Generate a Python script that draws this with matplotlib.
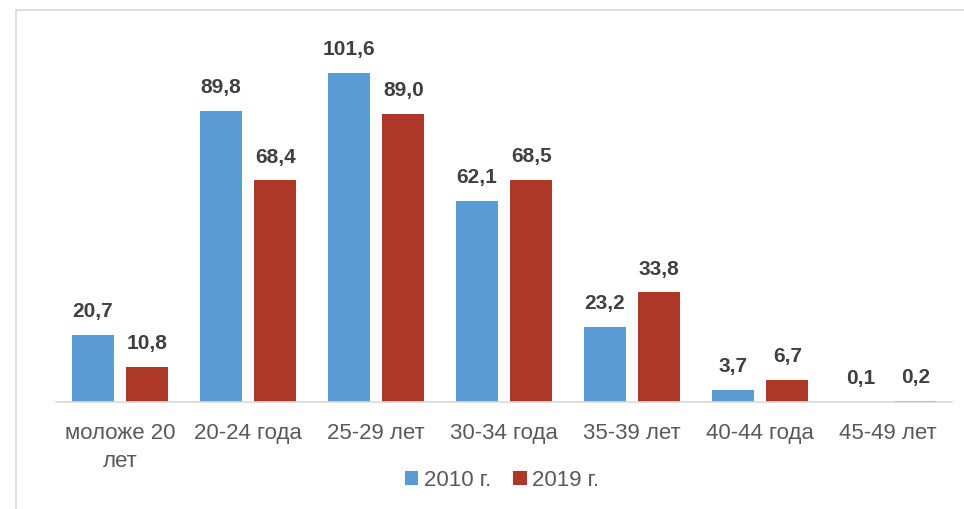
import numpy as np
import matplotlib.pyplot as plt
from matplotlib.patches import Rectangle

plt.rcParams['font.family'] = ['Liberation Sans', 'DejaVu Sans']

categories = ["моложе 20\nлет", "20-24 года", "25-29 лет", "30-34 года",
              "35-39 лет", "40-44 года", "45-49 лет"]
vals_2010 = [20.7, 89.8, 101.6, 62.1, 23.2, 3.7, 0.1]
vals_2019 = [10.8, 68.4, 89.0, 68.5, 33.8, 6.7, 0.2]
series_names = ["2010 г.", "2019 г."]

blue = "#5B9BD5"
red = "#AE3828"

fig = plt.figure(figsize=(9.64, 5.09), dpi=100)
ax = fig.add_axes([56/964, 107/509, 896/964, 392/509])

x = np.arange(len(categories))
w = 0.33
b1 = ax.bar(x - 0.213, vals_2010, w, color=blue, label=series_names[0])
b2 = ax.bar(x + 0.213, vals_2019, w, color=red, label=series_names[1])

for bars in (b1, b2):
    labels = [("%.1f" % b.get_height()).replace(".", ",") for b in bars]
    ax.bar_label(bars, labels=labels, padding=10, fontsize=15,
                 fontweight="bold", color="#404040")

ax.set_xlim(-0.5, len(categories) - 0.5)
ax.set_ylim(0, 121)
ax.set_yticks([])
ax.set_xticks(x)
ax.set_xticklabels(categories, fontsize=16, color="#595959", linespacing=1.45)
ax.tick_params(axis="x", length=0, pad=15)
for s in ["top", "right", "left"]:
    ax.spines[s].set_visible(False)
ax.spines["bottom"].set_color("#D9D9D9")
ax.spines["bottom"].set_linewidth(1.2)

fig.legend(loc="center", bbox_to_anchor=(502/964, 1 - 480/509), ncol=2,
           frameon=False, fontsize=16, handlelength=0.6, handleheight=0.6,
           handletextpad=0.25, columnspacing=1.0, labelcolor="#595959")

fig.patches.append(Rectangle((16/964, -0.1), 1.0, 1 - 10/509 + 0.1,
                             transform=fig.transFigure, fill=False,
                             edgecolor="#D9D9D9", linewidth=1.2))

fig.savefig("out.png", dpi=100)
